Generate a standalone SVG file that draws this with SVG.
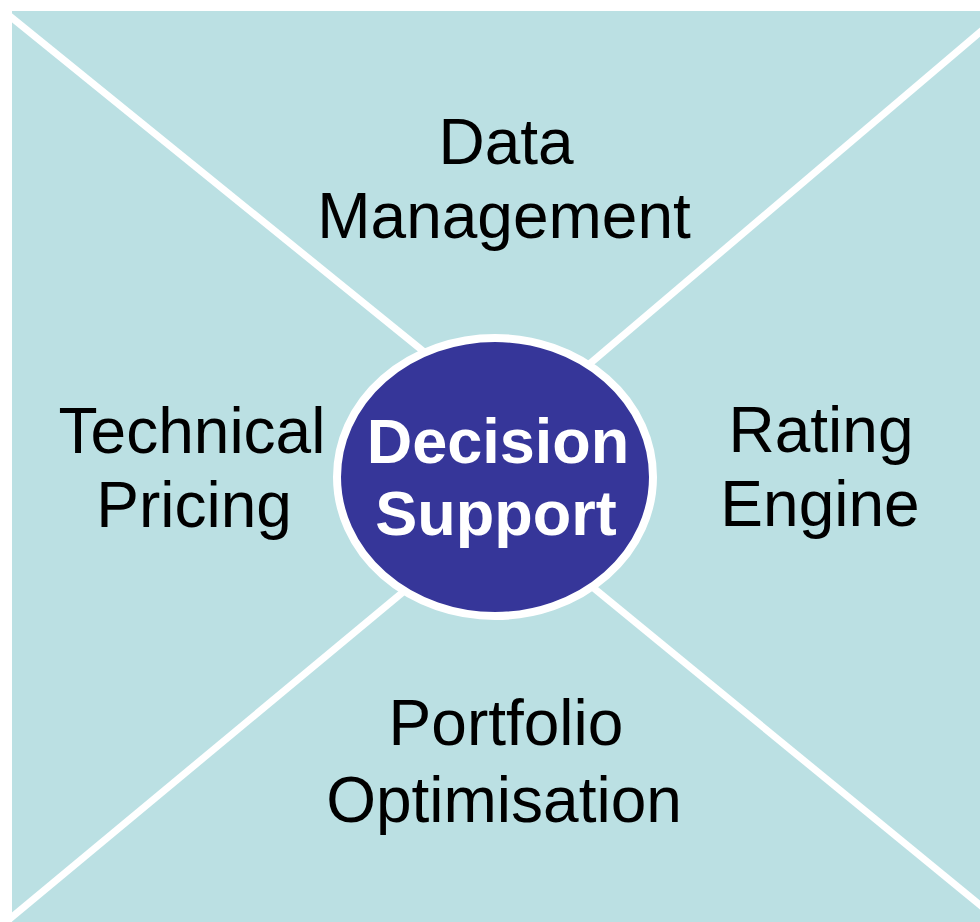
<svg xmlns="http://www.w3.org/2000/svg" width="980" height="922" viewBox="0 0 980 922">
  <style>
    .bg { fill: #bbe0e3; }
    .spoke { stroke: #ffffff; stroke-width: 7; fill: none; }
    .label { font-family: "Liberation Sans", Arial, sans-serif; font-size: 64px; fill: #000000; text-anchor: middle; }
    .hub { fill: #363699; stroke: #ffffff; stroke-width: 8; }
    .hub-label { font-family: "Liberation Sans", Arial, sans-serif; font-size: 63px; font-weight: bold; fill: #ffffff; text-anchor: middle; }
  </style>

  <rect class="bg" x="12" y="11" width="968" height="911"/>

  <g id="connectors">
    <line class="spoke" x1="6" y1="13" x2="460" y2="381"/>
    <line class="spoke" x1="986" y1="27" x2="540" y2="406"/>
    <line class="spoke" x1="6" y1="922" x2="450" y2="553"/>
    <line class="spoke" x1="986" y1="910" x2="540" y2="544"/>
  </g>

  <g id="data-management">
    <text class="label" x="506" y="164">Data</text>
    <text class="label" x="504" y="238">Management</text>
  </g>

  <g id="technical-pricing">
    <text class="label" x="192" y="453">Technical</text>
    <text class="label" x="194" y="527">Pricing</text>
  </g>

  <g id="rating-engine">
    <text class="label" x="821" y="452">Rating</text>
    <text class="label" x="820" y="526">Engine</text>
  </g>

  <g id="portfolio-optimisation">
    <text class="label" x="506" y="745">Portfolio</text>
    <text class="label" x="504" y="822">Optimisation</text>
  </g>

  <g id="decision-support">
    <ellipse class="hub" cx="495" cy="477" rx="158" ry="139"/>
    <text class="hub-label" x="498" y="463">Decision</text>
    <text class="hub-label" x="496" y="535">Support</text>
  </g>
</svg>
